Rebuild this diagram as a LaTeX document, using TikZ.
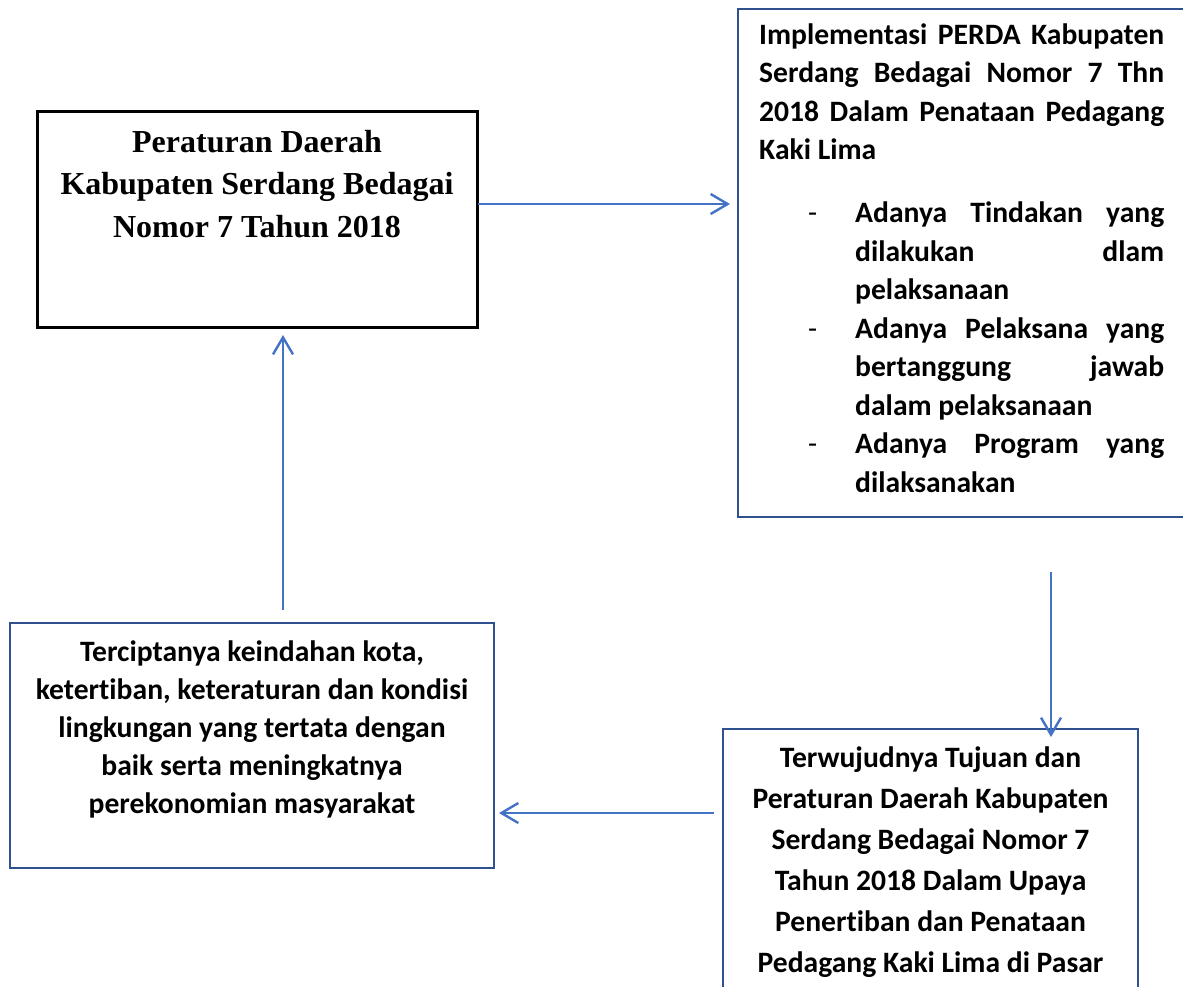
\documentclass[tikz,border=0pt]{standalone}
\usepackage{fontspec}
\setmainfont{Carlito}[Ligatures=NoCommon]
\newfontfamily\timesfont{Liberation Serif}
\usetikzlibrary{arrows.meta}
\definecolor{arrowblue}{HTML}{4472C4}
\definecolor{boxblue}{HTML}{2F528F}
\begin{document}
\begin{tikzpicture}[x=1pt,y=-1pt,
  bluebox/.style={draw=boxblue, line width=2.4pt, inner sep=0pt, rectangle},
  blackbox/.style={draw=black, line width=3pt, inner sep=0pt, rectangle},
  flow/.style={draw=arrowblue, line width=2.4pt, -{Straight Barb[length=17pt,width=20pt]}},
  txt/.style={inner sep=0pt, font=\bfseries\fontsize{29.6}{38.5}\selectfont}
]
\useasboundingbox (0,0) rectangle (1183,986);
% boxes
\node[blackbox, minimum width=440pt, minimum height=216pt] (b1) at (257,219) {};
\node[bluebox, minimum width=448pt, minimum height=508pt] (b2) at (962,263) {};
\node[bluebox, minimum width=415pt, minimum height=271pt] (b3) at (930.5,864.5) {};
\node[bluebox, minimum width=484pt, minimum height=245pt] (b4) at (252,745.5) {};
% texts (base anchor = baseline of the last line)
\node[inner sep=0pt, anchor=base, align=center, font=\timesfont\bfseries\fontsize{32}{42.5}\selectfont] (t1) at (257,237) {Peraturan Daerah\\Kabupaten Serdang Bedagai\\Nomor 7 Tahun 2018};
\node[txt, anchor=base west, align=left] (t2) at (759,492) {%
\makebox[405pt][s]{Implementasi PERDA Kabupaten}\\
\makebox[405pt][s]{Serdang Bedagai Nomor 7 Thn}\\
\makebox[405pt][s]{2018 Dalam Penataan Pedagang}\\
Kaki Lima\\[24.5pt]
\hspace*{49pt}\makebox[47pt][l]{\mdseries -}\makebox[309pt][s]{Adanya Tindakan yang}\\
\hspace*{96pt}\makebox[309pt][s]{dilakukan dlam}\\
\hspace*{96pt}pelaksanaan\\
\hspace*{49pt}\makebox[47pt][l]{\mdseries -}\makebox[309pt][s]{Adanya Pelaksana yang}\\
\hspace*{96pt}\makebox[309pt][s]{bertanggung jawab}\\
\hspace*{96pt}dalam pelaksanaan\\
\hspace*{49pt}\makebox[47pt][l]{\mdseries -}\makebox[309pt][s]{Adanya Program yang}\\
\hspace*{96pt}dilaksanakan};
\node[inner sep=0pt, anchor=base, align=center, font=\bfseries\fontsize{29.6}{41}\selectfont] (t3) at (930.5,972) {Terwujudnya Tujuan dan\\Peraturan Daerah Kabupaten\\Serdang Bedagai Nomor 7\\Tahun 2018 Dalam Upaya\\Penertiban dan Penataan\\Pedagang Kaki Lima di Pasar};
\node[inner sep=0pt, anchor=base, align=center, font=\bfseries\fontsize{29.6}{37.8}\selectfont] (t4) at (252,813) {Terciptanya keindahan kota,\\ketertiban, keteraturan dan kondisi\\lingkungan yang tertata dengan\\baik serta meningkatnya\\perekonomian masyarakat};
% arrow ends
\coordinate (p1s) at (478,204);
\coordinate (p1e) at (730,204);
\coordinate (p2s) at (1051,572);
\coordinate (p2e) at (1051,737);
\coordinate (p3s) at (714,813);
\coordinate (p3e) at (499,813);
\coordinate (p4s) at (283,610);
\coordinate (p4e) at (283,335);
\draw[flow] (p1s) -- (p1e);
\draw[flow] (p2s) -- (p2e);
\draw[flow] (p3s) -- (p3e);
\draw[flow] (p4s) -- (p4e);
\end{tikzpicture}
\end{document}
